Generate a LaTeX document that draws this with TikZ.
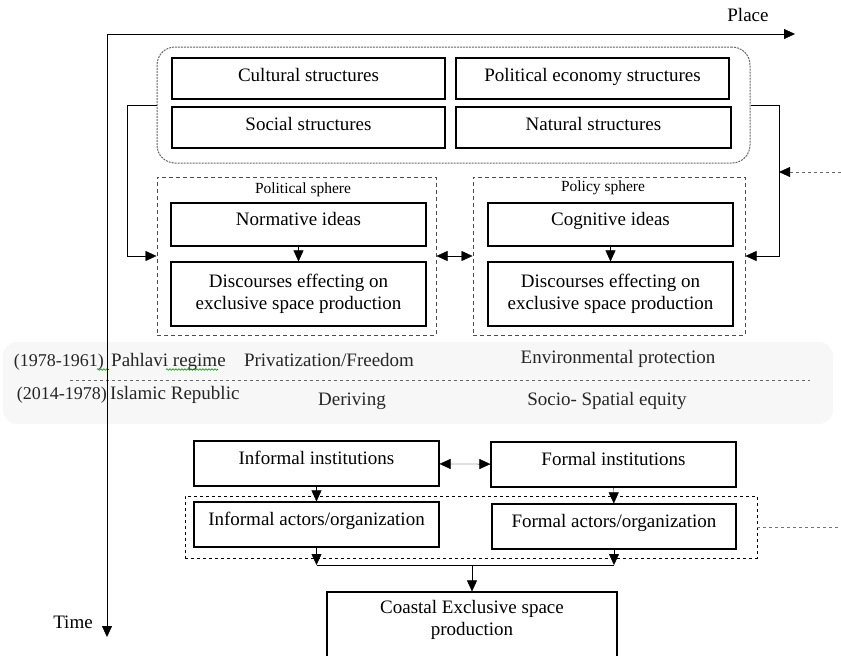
\documentclass[tikz,border=0pt]{standalone}
\usepackage{fontspec}
\setmainfont{Liberation Serif}
\usepackage{tikz}
\usetikzlibrary{arrows.meta,positioning,decorations.pathmorphing}
\tikzset{
    >={Triangle[length=11pt,width=10pt]},->,auto,line width=1pt,
    font=\fontsize{19}{22}\selectfont,
    box/.style ={rectangle, draw, line width=1.1pt, inner sep=2pt, align=center},
    upper/.style ={text depth=12pt},
    lifted/.style ={text depth=8pt},
    sphere/.style ={rectangle, draw=black!70, dash pattern=on 4pt off 3pt, line width=1pt},
    structs/.style ={rectangle, draw=black!60, rounded corners=18pt, dash pattern=on 2pt off 1pt, line width=1pt},
    small/.style = {font=\fontsize{15.5}{18}\selectfont, inner sep=0pt},
    era/.style = {text=black!85, inner sep=0pt},
    years/.style = {era, font=\fontsize{18}{21}\selectfont},
    bidirected/.style={<->},
    squiggle/.style={-, green!55!black, line width=0.6pt, decorate,
        decoration={snake, amplitude=0.8pt, segment length=3pt}}
}
\begin{document}
\begin{tikzpicture}[x=1pt,y=-1pt]
    \useasboundingbox (0,0) rectangle (841,656);

    % periods
    \node[rectangle, fill=black!3, rounded corners=14pt, minimum width=830pt, minimum height=82pt] (band) at (418,383) {};
    \draw[-, dashed, black!60] (70,380) -- (810,380);
    \node[years, anchor=base east] (y1) at (104,366) {(1978-1961)};
    \node[era, anchor=base west] (r1) at (111,366) {Pahlavi regime};
    \node[years, anchor=base east] (y2) at (107,399) {(2014-1978)};
    \node[era, anchor=base west] (r2) at (110,399) {Islamic Republic};
    \node[era, anchor=base] (priv) at (329,366) {Privatization/Freedom};
    \node[era, anchor=base] (env) at (618,363) {Environmental protection};
    \node[era, anchor=base] (der) at (352,405) {Deriving};
    \node[era, anchor=base] (soc) at (607,405) {Socio- Spatial equity};
    \draw[squiggle] (97,369.5) -- (109,369.5);
    \draw[squiggle] (166,369.5) -- (218,369.5);

    % axes
    \coordinate (o) at (107,34);
    \coordinate (px) at (795,34);
    \coordinate (ty) at (107,637);
    \draw (o) -- (px);
    \draw (o) -- (ty);
    \node (place) at (748,15) {Place};
    \node (time) at (73,622) {Time};

    % structures
    \node[structs, minimum width=593pt, minimum height=116pt] (str) at (453.5,105) {};
    \node[box, lifted, minimum width=273pt, minimum height=41pt] (cult) at (308.5,78.5) {Cultural structures};
    \node[box, lifted, minimum width=273pt, minimum height=41pt] (pole) at (592.5,78.5) {Political economy structures};
    \node[box, lifted, minimum width=273pt, minimum height=41pt] (socs) at (308.5,127.5) {Social structures};
    \node[box, lifted, minimum width=275pt, minimum height=41pt] (nat) at (593.5,127.5) {Natural structures};

    % spheres
    \node[sphere, minimum width=279pt, minimum height=158pt] (pols) at (296.5,256) {};
    \node[small] at (303,190) {Political sphere};
    \node[box, upper, minimum width=255pt, minimum height=43pt] (norm) at (298.5,224.5) {Normative ideas};
    \node[box, minimum width=255pt, minimum height=64pt] (disa) at (298.5,294) {Discourses effecting on\\exclusive space production};

    \node[sphere, minimum width=272pt, minimum height=158pt] (polc) at (609,256) {};
    \node[small] at (603,188) {Policy sphere};
    \node[box, upper, minimum width=245pt, minimum height=43pt] (cogn) at (610.5,224.5) {Cognitive ideas};
    \node[box, minimum width=245pt, minimum height=64pt] (disb) at (610.5,294) {Discourses effecting on\\exclusive space production};

    \path (norm) edge (disa);
    \path (cogn) edge (disb);
    \draw[bidirected] (pols.east) -- (polc.west);
    \draw (str.west |- 0,105) -| (127,256) -- (pols.west);
    \draw (str.east |- 0,105) -| (779,256) -- (polc.east);
    \coordinate (feed) at (841,172);
    \draw[dashed, black!60, -{Triangle[length=11pt,width=10pt,color=black]}] (feed) -- (779,172);

    % institutions
    \node[box, upper, minimum width=245pt, minimum height=45pt] (infi) at (316.5,463.5) {Informal institutions};
    \node[box, upper, minimum width=245pt, minimum height=45pt] (fori) at (613.5,464.5) {Formal institutions};
    \draw[bidirected] (infi) -- (fori);

    \node[rectangle, draw, dashed, minimum width=572pt, minimum height=62pt] (act) at (471,527) {};
    \node[box, upper, minimum width=245pt, minimum height=45pt] (infa) at (316.5,524.5) {Informal actors/organization};
    \node[box, upper, minimum width=244pt, minimum height=45pt] (fora) at (614,526.5) {Formal actors/organization};
    \path (infi) edge (infa);
    \path (fori) edge (fora);
    \coordinate (side) at (841,527);
    \draw[-, dashed, black!55] (act.east) -- (side);

    \node[box, text depth=28pt, minimum width=290pt, minimum height=80pt] (coast) at (472,632) {Coastal Exclusive space\\production};
    \coordinate (ja) at (316.5,565);
    \coordinate (jb) at (614,565);
    \draw (infa) -- (ja);
    \draw (fora) -- (jb);
    \draw[-] (ja) -- (jb);
    \draw (ja -| coast) -- (coast);
\end{tikzpicture}
\end{document}
